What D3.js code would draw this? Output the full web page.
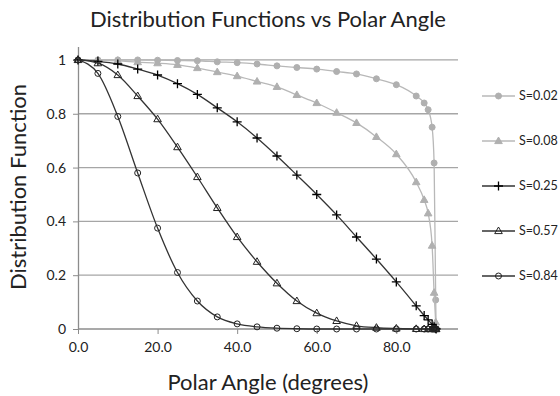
<!DOCTYPE html>
<html>
<head>
<meta charset="utf-8">
<script src="https://cdn.jsdelivr.net/npm/d3@7"></script>
<style>
  body { margin: 0; background: #fff; }
  text { font-family: Lato, "Open Sans", sans-serif; fill: #222; }
</style>
</head>
<body>
<div id="chart"></div>
<script>
const theta = [0, 5, 10, 15, 20, 25, 30, 35, 40, 45, 50, 55, 60, 65, 70, 75, 80, 85, 87, 88, 89, 89.5, 89.9, 90]

const s002 = [1, 1, 1, 1, 0.999, 0.998, 0.997, 0.993, 0.99, 0.985, 0.978, 0.972, 0.966, 0.957, 0.948, 0.93, 0.908, 0.866, 0.84, 0.815, 0.75, 0.617, 0.108, 0]
const s008 = [1, 0.999, 0.997, 0.992, 0.988, 0.982, 0.97, 0.955, 0.94, 0.92, 0.9, 0.87, 0.84, 0.804, 0.766, 0.714, 0.65, 0.546, 0.48, 0.43, 0.31, 0.135, 0.025, 0]
const s025 = [1, 0.995, 0.985, 0.966, 0.944, 0.912, 0.872, 0.822, 0.77, 0.71, 0.643, 0.572, 0.5, 0.424, 0.342, 0.26, 0.175, 0.086, 0.05, 0.034, 0.017, 0.008, 0.002, 0]
const s057 = [1, 0.988, 0.944, 0.866, 0.78, 0.676, 0.565, 0.45, 0.342, 0.25, 0.17, 0.104, 0.059, 0.03, 0.012, 0.005, 0.002, 0.0005, 0, 0, 0, 0, 0, 0]
const s084 = [1, 0.95, 0.79, 0.58, 0.375, 0.21, 0.104, 0.045, 0.019, 0.008, 0.003, 0.001, 0, 0, 0, 0, 0, 0, 0, 0, 0, 0, 0, 0]

const seriesNames = ["S=0.02", "S=0.08", "S=0.25", "S=0.57", "S=0.84"]
const seriesValues = [s002, s008, s025, s057, s084]

const xTicks = [0, 20, 40, 60, 80]
const yTicks = [0, 0.2, 0.4, 0.6, 0.8, 1]

const width = 560, height = 396
const plotLeft = 78, plotRight = 456, plotTop = 46.5, plotBottom = 329

const styles = [
  { line: "#b8b8b8", marker: "circle", fill: "#b0b0b0", stroke: "#b0b0b0" },
  { line: "#b8b8b8", marker: "triangle", fill: "#b0b0b0", stroke: "#b0b0b0" },
  { line: "#333", marker: "plus", fill: "none", stroke: "#000" },
  { line: "#333", marker: "triangle", fill: "none", stroke: "#222" },
  { line: "#333", marker: "circle", fill: "none", stroke: "#222" }
]

const xScale = d3.scaleLinear().domain([0, 95]).range([plotLeft, plotRight])
const yScale = d3.scaleLinear().domain([0, 1.05]).range([plotBottom, plotTop])

const svg = d3.select("#chart").append("svg")
  .attr("width", width)
  .attr("height", height)

// gridlines
svg.append("g")
  .selectAll("line")
  .data(yTicks.filter(d => d > 0))
  .enter().append("line")
    .attr("x1", plotLeft).attr("x2", plotRight + 2)
    .attr("y1", d => yScale(d)).attr("y2", d => yScale(d))
    .attr("stroke", "#a6a6a6")
    .attr("stroke-width", 1.3)

// X Axis
const xAxis = d3.axisBottom(xScale).tickValues(xTicks).tickFormat(d3.format(".1f")).tickSize(5).tickSizeOuter(0)
const gx = svg.append("g")
  .attr("transform", "translate(0," + plotBottom + ")")
  .call(xAxis)
gx.select(".domain").attr("stroke", "#8c8c8c").attr("stroke-width", 1.3).attr("d", "M" + plotLeft + ",0H" + (plotRight + 2))
gx.selectAll(".tick line").attr("stroke", "#8c8c8c")
gx.selectAll(".tick text").attr("font-size", 14).attr("dy", "1.05em").attr("fill", "#222")

// Y Axis
const yAxis = d3.axisLeft(yScale).tickValues(yTicks).tickFormat(d => d === 0 || d === 1 ? d : d3.format(".1f")(d)).tickSize(5).tickSizeOuter(0)
const gy = svg.append("g")
  .attr("transform", "translate(" + plotLeft + ",0)")
  .call(yAxis)
gy.select(".domain").attr("stroke", "#8c8c8c").attr("stroke-width", 1.3)
gy.selectAll(".tick line").attr("stroke", "#8c8c8c")
gy.selectAll(".tick text").attr("font-size", 14).attr("x", -12).attr("fill", "#222")

// Titles
svg.append("text")
  .text("Distribution Functions vs Polar Angle")
  .attr("text-anchor", "middle")
  .attr("font-size", 22)
  .attr("x", 268).attr("y", 27)

svg.append("text")
  .text("Polar Angle (degrees)")
  .attr("text-anchor", "middle")
  .attr("font-size", 22)
  .attr("x", 268).attr("y", 390)

svg.append("text")
  .text("Distribution Function")
  .attr("text-anchor", "middle")
  .attr("font-size", 22)
  .attr("transform", "translate(26," + 187 + ")rotate(-90)")

// markers
function drawMarker(g, type, st) {
  if (type === "circle") {
    g.append("circle").attr("r", 3).attr("fill", st.fill === "none" ? "#fff" : st.fill)
      .attr("fill-opacity", st.fill === "none" ? 0 : 1)
      .attr("stroke", st.stroke).attr("stroke-width", 1)
  } else if (type === "triangle") {
    g.append("path").attr("d", "M0,-4L3.8,2.6L-3.8,2.6Z")
      .attr("fill", st.fill).attr("stroke", st.stroke).attr("stroke-width", 1)
  } else {
    g.append("path").attr("d", "M-4.5,0H4.5M0,-4.5V4.5")
      .attr("fill", "none").attr("stroke", st.stroke).attr("stroke-width", 1.3)
  }
}

const line = d3.line()
  .x(d => xScale(d[0]))
  .y(d => yScale(d[1]))
  .curve(d3.curveMonotoneX)

// Series (light first, dark on top)
seriesValues.forEach((vals, i) => {
  const st = styles[i]
  const pts = theta.map((t, j) => [t, vals[j]])
  const g = svg.append("g")
  g.append("path")
    .datum(pts)
    .attr("d", line)
    .attr("fill", "none")
    .attr("stroke", st.line)
    .attr("stroke-width", 1.3)
  g.selectAll("g.pt")
    .data(pts).enter()
    .append("g")
      .attr("class", "pt")
      .attr("transform", d => "translate(" + xScale(d[0]) + "," + yScale(d[1]) + ")")
      .each(function() { drawMarker(d3.select(this), st.marker, st) })
})

// Legend
const legend = svg.append("g")
seriesNames.forEach((name, i) => {
  const st = styles[i]
  const y = 96 + i * 45
  legend.append("line")
    .attr("x1", 482).attr("x2", 515)
    .attr("y1", y).attr("y2", y)
    .attr("stroke", st.line).attr("stroke-width", 1.3)
  const m = legend.append("g").attr("transform", "translate(498.5," + y + ")")
  drawMarker(m, st.marker, st)
  legend.append("text")
    .text(name)
    .attr("x", 519).attr("y", y)
    .attr("dy", "0.35em")
    .attr("font-size", 12.5)
})
</script>
</body>
</html>
